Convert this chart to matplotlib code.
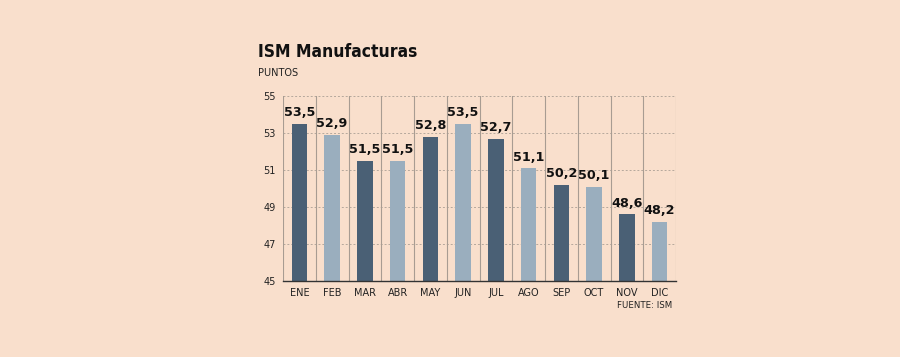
import matplotlib
matplotlib.use("Agg")
import matplotlib.pyplot as plt
import numpy as np

months = ["ENE", "FEB", "MAR", "ABR", "MAY", "JUN", "JUL", "AGO", "SEP", "OCT", "NOV", "DIC"]
values = [53.5, 52.9, 51.5, 51.5, 52.8, 53.5, 52.7, 51.1, 50.2, 50.1, 48.6, 48.2]
labels = ["53,5", "52,9", "51,5", "51,5", "52,8", "53,5", "52,7", "51,1", "50,2", "50,1", "48,6", "48,2"]
yticks = [45, 47, 49, 51, 53, 55]

bg = "#f9dfcc"
dark = "#4a6075"
light = "#9aaebe"

fig = plt.figure(figsize=(9, 3.57), dpi=100, facecolor=bg)
ax = fig.add_axes([283/900, 1-281/357, (676-283)/900, (281-96)/357])
ax.set_facecolor(bg)

x = np.arange(len(months))
colors = [dark if i % 2 == 0 else light for i in range(len(months))]
ax.bar(x, [v - 45 for v in values], bottom=45, width=0.48, color=colors, zorder=3)

for xi, v, lab in zip(x, values, labels):
    ax.text(xi, v + 0.25, lab, ha="center", va="bottom", fontsize=9.2, fontweight="bold",
            color="#111111", zorder=4)

ax.set_xlim(-0.5, len(months) - 0.5)
ax.set_ylim(45, 55)
ax.set_yticks(yticks)
ax.set_yticklabels([str(t) for t in yticks], fontsize=7, color="#222222")
ax.set_xticks(x)
ax.set_xticklabels(months, fontsize=7, color="#222222")
ax.tick_params(length=0, pad=5)

for yt in yticks[1:]:
    ax.axhline(yt, color="#b5a89c", linestyle=(0, (2, 2)), linewidth=0.7, zorder=1)
for b in np.arange(-0.5, len(months) + 0.5, 1):
    ax.axvline(b, color="#a89c92", linewidth=0.8, zorder=2)

for s in ["top", "right", "left"]:
    ax.spines[s].set_visible(False)
ax.spines["bottom"].set_color("#333333")
ax.spines["bottom"].set_linewidth(1.0)
ax.spines["bottom"].set_zorder(5)

fig.text(258/900, 1-52/357, "ISM Manufacturas", fontsize=12.5, fontweight="bold",
         fontstretch="condensed", color="#111111", va="center", ha="left")
fig.text(258/900, 1-73/357, "PUNTOS", fontsize=7, color="#222222", va="center", ha="left")
fig.text(672/900, 1-306/357, "FUENTE: ISM", fontsize=6.2, color="#222222", va="center", ha="right")

fig.savefig("out.png", dpi=100, facecolor=bg)
